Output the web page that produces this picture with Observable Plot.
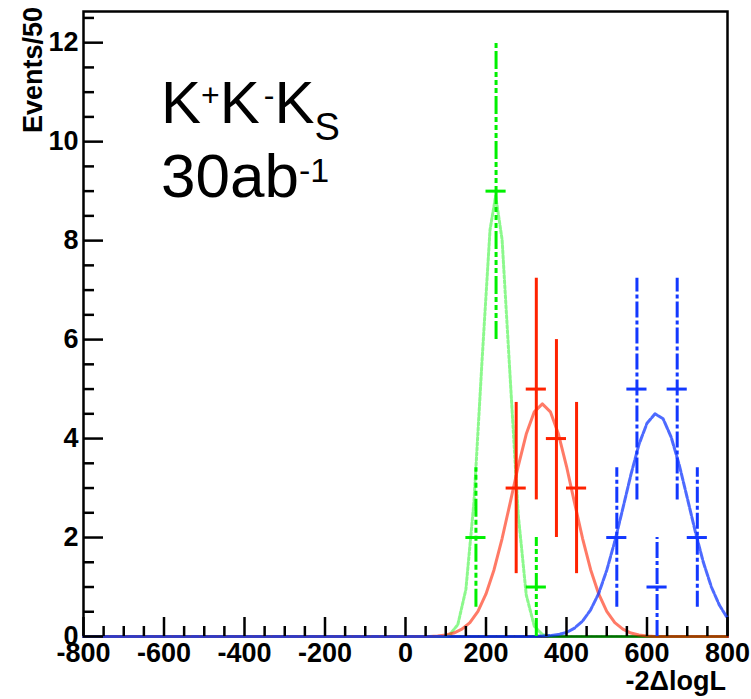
<!DOCTYPE html>
<html>
<head>
<meta charset="utf-8">
<script src="https://cdn.jsdelivr.net/npm/d3@7"></script>
<script src="https://cdn.jsdelivr.net/npm/@observablehq/plot@0.6"></script>
<style>
  html, body { margin: 0; padding: 0; background: white; }
</style>
</head>
<body>
<div id="chart"></div>
<script>
// ---- data ----
const binHalfWidth = 25; // bins of 50 ("Events/50")

// measured points (bin centre, count, error)
const greenX = [175, 225, 325];
const greenY = [2, 9, 1];
const greenErr = [1.41, 3, 1];

const redX = [275, 325, 375, 425];
const redY = [3, 5, 4, 3];
const redErr = [1.73, 2.24, 2, 1.73];

const blueX = [525, 575, 625, 675, 725];
const blueY = [2, 5, 1, 5, 2];
const blueErr = [1.41, 2.24, 1, 2.24, 1.41];

// fitted curves
const greenCurveX = [-800, 100, 110, 130, 150, 170, 190, 210, 224, 240, 260, 280, 300, 320, 340, 360, 800];
const greenCurveY = [0, 0, 0.04, 0.24, 0.95, 2.71, 5.55, 8.22, 8.9, 8.02, 5.24, 2.47, 0.84, 0.21, 0.04, 0, 0];

const redCurveX = [-800, 60, 80, 100, 120, 140, 160, 180, 200, 220, 240, 260, 280, 300, 320, 340, 360, 380, 400, 420, 440, 460, 480, 500, 520, 540, 560, 580, 600, 620, 800];
const redCurveY = [0, 0, 0.01, 0.03, 0.07, 0.15, 0.28, 0.51, 0.86, 1.35, 1.98, 2.70, 3.44, 4.09, 4.54, 4.70, 4.54, 4.09, 3.44, 2.70, 1.98, 1.35, 0.86, 0.51, 0.28, 0.15, 0.07, 0.03, 0.01, 0, 0];

const blueCurveX = [-800, 320, 340, 360, 380, 400, 420, 440, 460, 480, 500, 520, 540, 560, 580, 600, 620, 640, 660, 680, 700, 720, 740, 760, 780, 800];
const blueCurveY = [0, 0, 0.01, 0.02, 0.04, 0.08, 0.17, 0.31, 0.54, 0.87, 1.34, 1.92, 2.59, 3.27, 3.88, 4.31, 4.50, 4.40, 4.03, 3.47, 2.80, 2.12, 1.50, 1.00, 0.63, 0.37];

// axis ticks
const xTickLabels = [-800, -600, -400, -200, 0, 200, 400, 600, 800];
const yTickLabels = [0, 2, 4, 6, 8, 10, 12];
const xMinorStep = 50;
const yMinorStep = 0.5;

// ---- build tables ----
const pts = (xs, ys, es) => xs.map((x, i) => ({x, y: ys[i], lo: ys[i] - es[i], hi: ys[i] + es[i]}));
const crv = (xs, ys) => xs.map((x, i) => ({x, y: ys[i]}));
const greenPts = pts(greenX, greenY, greenErr);
const redPts = pts(redX, redY, redErr);
const bluePts = pts(blueX, blueY, blueErr);

const xMinor = d3.range(-800, 800 + 1e-9, xMinorStep).filter(v => !xTickLabels.includes(v));
const yMinor = d3.range(0, 12.6, yMinorStep).filter(v => !yTickLabels.includes(v));

const GREEN = "#00f000", RED = "#ff2200", BLUE = "#1238ff";
const W = 751, H = 699, ML = 83, MR = 24, MT = 11, MB = 63;
const PW = W - ML - MR, PH = H - MT - MB;

function errorBars(data, color, dash) {
  return [
    Plot.ruleX(data, {x: "x", y1: "lo", y2: "hi", stroke: color, strokeWidth: 3, strokeDasharray: dash}),
    Plot.ruleY(data, {y: "y", x1: d => d.x - binHalfWidth, x2: d => d.x + binHalfWidth, stroke: color, strokeWidth: 3})
  ];
}

const chart = Plot.plot({
  width: W, height: H,
  marginLeft: ML, marginRight: MR, marginTop: MT, marginBottom: MB,
  x: {domain: [-800, 800]},
  y: {domain: [0, 12.63]},
  style: {fontFamily: "'Liberation Sans', Arial, sans-serif", fontSize: "27px", background: "white", overflow: "visible"},
  marks: [
    Plot.frame({stroke: "black", strokeWidth: 2.5}),
    Plot.line(crv(greenCurveX, greenCurveY), {x: "x", y: "y", stroke: GREEN, strokeOpacity: 0.45, strokeWidth: 3, strokeDasharray: "3,2"}),
    Plot.line(crv(redCurveX, redCurveY), {x: "x", y: "y", stroke: RED, strokeOpacity: 0.6, strokeWidth: 3}),
    Plot.line(crv(blueCurveX, blueCurveY), {x: "x", y: "y", stroke: BLUE, strokeOpacity: 0.75, strokeWidth: 3, strokeDasharray: "7,2"}),
    ...errorBars(greenPts, GREEN, "18,3,5,3,5,3,5,3"),
    ...errorBars(redPts, RED, null),
    ...errorBars(bluePts, BLUE, "16,3,4,3"),
    // inward ticks
    Plot.tickX(xTickLabels, {x: d => d, insetTop: PH - 19, stroke: "black", strokeWidth: 2.5}),
    Plot.tickX(xMinor, {x: d => d, insetTop: PH - 10, stroke: "black", strokeWidth: 2.5}),
    Plot.tickY(yTickLabels, {y: d => d, insetRight: PW - 20, stroke: "black", strokeWidth: 2.5}),
    Plot.tickY(yMinor, {y: d => d, insetRight: PW - 11, stroke: "black", strokeWidth: 2.5}),
    Plot.axisX({ticks: xTickLabels, tickSize: 0, tickPadding: 6, tickFormat: d => String(d), fontWeight: "bold", label: null}),
    Plot.axisY({ticks: yTickLabels, tickSize: 0, tickPadding: 5, tickFormat: d => String(d), fontWeight: "bold", label: null})
  ]
});
document.getElementById("chart").appendChild(chart);

// ---- annotations ----
const svg = d3.select(chart);
const ff = "'Liberation Sans', Arial, sans-serif";

svg.append("text")
  .attr("transform", "translate(42,7) rotate(-90)")
  .attr("text-anchor", "end")
  .attr("font-family", ff).attr("font-size", 27).attr("font-weight", "bold")
  .attr("fill", "black")
  .text("Events/50");

svg.append("text")
  .attr("x", 726).attr("y", 690)
  .attr("text-anchor", "end")
  .attr("font-family", ff).attr("font-size", 27).attr("font-weight", "bold")
  .attr("fill", "black")
  .text("-2ΔlogL");

const t1 = svg.append("text").attr("x", 161).attr("y", 123)
  .attr("text-anchor", "start")
  .attr("font-family", ff).attr("font-size", 60).attr("fill", "black");
t1.append("tspan").text("K");
t1.append("tspan").attr("font-size", 32).attr("dy", -17).text("+");
t1.append("tspan").attr("dy", 17).text("K");
t1.append("tspan").attr("font-size", 32).attr("dy", -17).attr("dx", 4).text("-");
t1.append("tspan").attr("dy", 17).text("K");
t1.append("tspan").attr("font-size", 38).attr("dy", 17).text("S");

const t2 = svg.append("text").attr("x", 161).attr("y", 197)
  .attr("text-anchor", "start")
  .attr("font-family", ff).attr("font-size", 62).attr("fill", "black");
t2.append("tspan").text("30ab");
t2.append("tspan").attr("font-size", 34).attr("dy", -15).text("-1");
</script>
</body>
</html>
